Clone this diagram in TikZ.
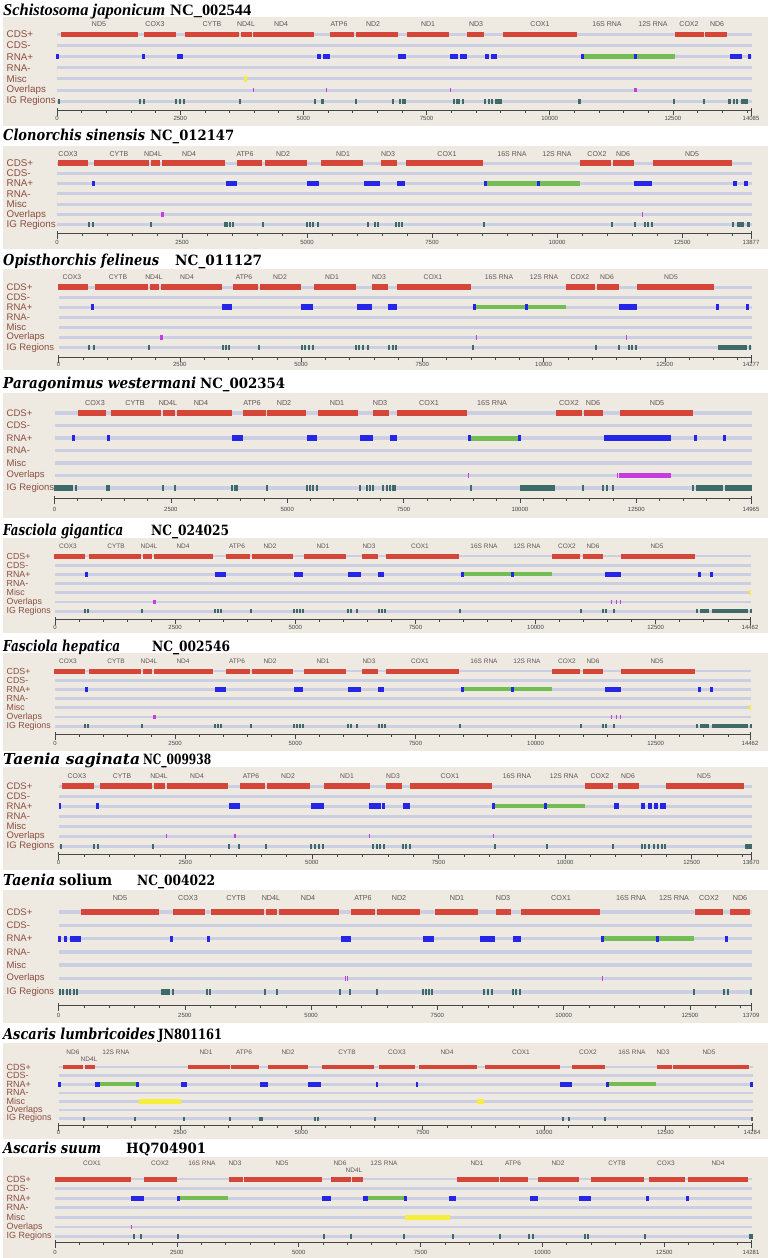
\documentclass[tikz,border=0pt]{standalone}
\usepackage{fontspec}
\usepackage{graphicx}
\setsansfont{Liberation Sans}
\newfontfamily\tnr{Liberation Serif}
\newfontfamily\dvs{DejaVu Serif}
\definecolor{bgc}{RGB}{238,234,226}
\definecolor{trkc}{RGB}{204,207,228}
\definecolor{cdsc}{RGB}{214,70,56}
\definecolor{bluc}{RGB}{38,38,232}
\definecolor{grnc}{RGB}{114,190,84}
\definecolor{yelc}{RGB}{245,238,60}
\definecolor{purc}{RGB}{198,60,222}
\definecolor{igc}{RGB}{62,106,106}
\definecolor{tlabc}{RGB}{140,76,62}
\definecolor{glabc}{RGB}{96,84,84}
\definecolor{axc}{RGB}{70,70,70}
\tikzset{
 trk/.style={draw=trkc, line width=\tw pt},
 cds/.style={draw=cdsc, line width=\fw pt},
 rb/.style={draw=bluc, line width=\fw pt},
 rr/.style={draw=grnc, line width=\fw pt-1pt},
 ms/.style={draw=yelc, line width=\fw pt},
 ov/.style={draw=purc, line width=\fw pt-1pt},
 igs/.style={draw=igc, line width=\fw pt-0.5pt},
 tlab/.style={anchor=west, inner sep=0, text=tlabc, font=\sffamily\fontsize{\tfs}{\tfs}\selectfont},
 glab/.style={inner sep=0, text=glabc, font=\sffamily\fontsize{\gfs}{\gfs}\selectfont},
 axlab/.style={inner sep=0, text=axc, font=\sffamily\fontsize{6}{6}\selectfont},
 axl/.style={draw=axc, line width=0.6pt},
}
\newcommand\setp[9]{\def\pT{#1}\def\bT{#2}\def\bB{#3}\def\pL{#4}\def\pY{#5}\def\pS{#6}\def\pA{#7}\def\pAL{#8}\def\plen{#9}}
\newcommand\pframe{%
 \fill[bgc] (3,\bT) rectangle (768,\bB);
 \foreach \i/\lab in {0/CDS+,1/CDS-,2/RNA+,3/RNA-,4/Misc,5/Overlaps,6/IG Regions}{
   \draw[trk] (\xa,{\pY+\i*\pS}) -- ({\xb+1},{\pY+\i*\pS});
   \node[tlab] (p\pn-trk\i) at (6.5,{\pY+\i*\pS}) {\lab};
 }
 \draw[axl] (\xa,\pA) -- (\xb,\pA);
 \pgfmathtruncatemacro\nmin{floor(\plen/500)}
 \foreach \k in {0,...,\nmin}{
   \pgfmathsetmacro\tx{\xa+\k*500/\plen*(\xb-\xa)}
   \draw[axl] (\tx,\pA) -- (\tx,\pA+2.5);
 }
 \pgfmathtruncatemacro\nmaj{floor(\plen/2500)}
 \foreach \k in {0,...,\nmaj}{
   \pgfmathsetmacro\tx{\xa+\k*2500/\plen*(\xb-\xa)}
   \pgfmathtruncatemacro\lv{\k*2500}
   \draw[axl] (\tx,\pA) -- (\tx,\pA+4.5);
   \node[axlab] (p\pn-ax\k) at (\tx,\pAL) {\lv};
 }
 \draw[axl] (\xa,\pA-2) -- (\xa,\pA+6);
 \draw[axl] (\xb,\pA-2) -- (\xb,\pA+6);
 \node[axlab] (p\pn-axend) at (\xb,\pAL) {\plen};
}
\newcommand\feat[3]{\foreach \a/\b in {#3}{\draw[#1] (\a,{\pY+#2*\pS}) -- (\b,{\pY+#2*\pS});}}
\newcommand\igt[1]{\foreach \a in {#1}{\draw[igs] ({\a-0.6},{\pY+6*\pS}) -- ({\a+0.6},{\pY+6*\pS});}}
\newcommand\glab[1]{\foreach \x/\g in {#1}{\node[glab] (p\pn-g\x) at (\x,\pL) {\g};}}
\newcommand\ttl[7]{% base y, font, species, width, acc, x, width
 \node[anchor=base west, inner sep=0] (p\pn-title) at (3,#1) {\resizebox{#4pt}{11.5pt}{#2\bfseries\itshape #3}};
 \node[anchor=base west, inner sep=0] (p\pn-acc) at (#6,#1) {\resizebox{#7pt}{10.5pt}{#2\bfseries #5}};}
\begin{document}
\begin{tikzpicture}[x=1pt,y=-1pt]
\useasboundingbox (0,0) rectangle (771,1258);
\fill[white] (0,0) rectangle (771,1258);
% ---------- Panel 1
\begin{scope}
\def\pn{1}\setp{10}{17}{126}{24.5}{34.5}{11.1}{110}{118.5}{14085}
\def\xa{57}\def\xb{751}\def\tw{3}\def\fw{5.5}\def\tfs{9.8}\def\gfs{7}
\pframe
\ttl{15.5}{\tnr}{Schistosoma japonicum}{162}{NC\_002544}{170}{81}
\glab{99/ND5, 155/COX3, 212/CYTB, 246/ND4L, 281/ND4, 339/ATP6, 373/ND2, 428/ND1, 476/ND3, 540/COX1, 607/16S RNA, 653/12S RNA, 689/COX2, 717/ND6}
\feat{cds}{0}{61/138, 144/176, 185/239, 241/252, 253/314, 330/354, 356/398, 407/449, 467/484, 503/577, 675/704, 705/727}
\feat{rb}{2}{56/58.5, 142/145, 177/183, 317/321, 323/330, 398/406, 450/458, 460/467, 485/489, 491/497, 730/742, 748/750.5}
\feat{rr}{2}{582/675}
\feat{rb}{2}{581/583.5, 634/636.5}
\feat{ms}{4}{244/247}
\feat{ov}{5}{252.5/254, 325.5/327, 449.5/450.5, 633.5/636.5}
\igt{59, 144, 176, 180, 184, 240, 315, 356, 393, 400, 403, 405, 454, 457, 459, 463, 485, 489, 492, 674, 704, 734, 737}
\feat{igs}{6}{138.5/140.5, 321/323.5, 495/502, 578/581, 728/731, 741/748}
\end{scope}
% ---------- Panel 2
\begin{scope}
\def\pn{2}\setp{135}{146}{249}{154}{163}{10.3}{233}{242}{13877}
\def\xa{57}\def\xb{751}\def\tw{3}\def\fw{5.5}\def\tfs{9.8}\def\gfs{7}
\pframe
\ttl{140}{\dvs}{Clonorchis sinensis}{142}{NC\_012147}{150}{84}
\glab{68/COX3, 119/CYTB, 153/ND4L, 189/ND4, 245/ATP6, 283/ND2, 343/ND1, 388/ND3, 447/COX1, 512/16S RNA, 557/12S RNA, 597/COX2, 623/ND6, 692/ND5}
\feat{cds}{0}{58/88, 94/149, 151/160, 162/225, 237/262, 265/307, 321/363, 381/397, 406/483, 580/611, 613/634, 653/732}
\feat{rb}{2}{92/94.5, 226/237, 307/319, 364/380, 397/405, 634/652, 733/737, 744/748}
\feat{rr}{2}{485/580}
\feat{rb}{2}{484/487, 537/539.5}
\feat{ov}{5}{161/163.5, 641.5/642.5}
\igt{89, 93, 151, 225, 227, 230, 233, 263, 307, 310, 313, 318, 368, 375, 378, 396, 399, 402, 484, 612, 635, 645, 648, 652, 733}
\feat{igs}{6}{737/744, 747/750}
\end{scope}
% ---------- Panel 3
\begin{scope}
\def\pn{3}\setp{260}{269}{370}{277}{287}{10.1}{357}{364.5}{14277}
\def\xa{58.6}\def\xb{751}\def\tw{3}\def\fw{5.5}\def\tfs{9.5}\def\gfs{6.8}
\pframe
\ttl{265}{\dvs}{Opisthorchis felineus}{156}{NC\_011127}{175}{87}
\glab{72/COX3, 118/CYTB, 154/ND4L, 187/ND4, 244/ATP6, 280/ND2, 332/ND1, 379/ND3, 433/COX1, 499/16S RNA, 544/12S RNA, 580/COX2, 607/ND6, 671/ND5}
\feat{cds}{0}{58/88, 95/148, 150/159, 161/222, 233/258, 260/301, 314/356, 372/388, 397/471, 566/595, 597/619, 637/714}
\feat{rb}{2}{91/93.5, 222/232, 301/313, 357/372, 388/397, 619/637, 716/718.5, 746/748.5}
\feat{rr}{2}{474/566}
\feat{rb}{2}{473/475.5, 525/527.5}
\feat{ov}{5}{160/162.5, 475.5/476.5, 625.5/626.5}
\igt{94, 149, 223, 226, 229, 259, 302, 305, 309, 313, 356, 359, 363, 368, 389, 393, 396, 473, 596, 619, 629, 632, 636}
\feat{igs}{6}{88/90, 718/747, 749/751}
\end{scope}
% ---------- Panel 4
\begin{scope}
\def\pn{4}\setp{383}{393}{518}{403}{413}{12.5}{498}{509}{14965}
\def\xa{54.5}\def\xb{751}\def\tw{3.5}\def\fw{6}\def\tfs{9.5}\def\gfs{7.2}
\pframe
\ttl{388}{\dvs}{Paragonimus westermani}{193}{NC\_002354}{200}{85}
\glab{95/COX3, 135/CYTB, 168/ND4L, 201/ND4, 252/ATP6, 284/ND2, 337/ND1, 380/ND3, 429/COX1, 492/16S RNA, 569/COX2, 593/ND6, 657/ND5}
\feat{cds}{0}{78/106, 111/161, 163/175, 177/232, 243/266, 267/306, 318/358, 373/389, 397/467, 556/582, 584/603, 620/693}
\feat{rb}{2}{72/74.5, 107/109.5, 232/243, 307/317, 360/373, 390/397, 604/671, 694/696.5, 723/725.5}
\feat{rr}{2}{469/519}
\feat{rb}{2}{467.5/470.5, 518/521}
\feat{ov}{5}{467.5/468.5, 616.5/617.5, 619/671}
\igt{76, 107, 109, 163, 175, 232, 235, 237, 267, 307, 310, 313, 317, 360, 367, 370, 373, 383, 387, 390, 393, 395, 471, 583, 603, 607, 613, 693}
\feat{igs}{6}{54/73, 520/555, 696/723, 725/752}
\end{scope}
% ---------- Panel 5
\begin{scope}
\def\pn{5}\setp{530}{538}{633}{546}{556}{9.2}{619}{627.5}{14462}
\def\xa{55}\def\xb{750}\def\tw{2.8}\def\fw{5}\def\tfs{8.8}\def\gfs{6.5}
\pframe
\ttl{535}{\dvs}{Fasciola gigantica}{120}{NC\_024025}{151}{78}
\glab{68/COX3, 116/CYTB, 149/ND4L, 183/ND4, 237/ATP6, 270/ND2, 323/ND1, 369/ND3, 420/COX1, 484/16S RNA, 527/12S RNA, 567/COX2, 593/ND6, 657/ND5}
\feat{cds}{0}{54/85, 89/141, 143/152, 154/213, 226/250, 252/293, 304/346, 362/378, 386/459, 552/580, 583/603, 621/695}
\feat{rb}{2}{85/87.5, 215/226, 294/303, 348/361, 378/384, 605/621, 698/700.5, 710/712.5}
\feat{rr}{2}{462/552}
\feat{rb}{2}{461/463.5, 511/513.5}
\feat{ms}{4}{749/751}
\feat{ov}{5}{153/155.5, 610.5/611.5, 615.5/616.5, 619.5/620.5}
\igt{85, 88, 142, 215, 218, 221, 251, 294, 297, 300, 303, 348, 351, 357, 379, 382, 385, 460, 581, 603, 606, 614, 697, 751}
\feat{igs}{6}{700/709, 712/748}
\end{scope}
% ---------- Panel 6
\begin{scope}
\def\pn{6}\setp{646}{653}{751}{661}{671}{9.2}{734}{743.5}{14462}
\def\xa{55}\def\xb{750}\def\tw{2.8}\def\fw{5}\def\tfs{8.8}\def\gfs{6.5}
\pframe
\ttl{651}{\dvs}{Fasciola hepatica}{117}{NC\_002546}{152}{78}
\glab{68/COX3, 116/CYTB, 149/ND4L, 183/ND4, 237/ATP6, 270/ND2, 323/ND1, 369/ND3, 420/COX1, 484/16S RNA, 527/12S RNA, 567/COX2, 593/ND6, 657/ND5}
\feat{cds}{0}{54/85, 89/141, 143/152, 154/213, 226/250, 252/293, 304/346, 362/378, 386/459, 552/580, 583/603, 621/695}
\feat{rb}{2}{85/87.5, 215/226, 294/303, 348/361, 378/384, 605/621, 698/700.5, 710/712.5}
\feat{rr}{2}{462/552}
\feat{rb}{2}{461/463.5, 511/513.5}
\feat{ms}{4}{749/751}
\feat{ov}{5}{153/155.5, 610.5/611.5, 615.5/616.5, 619.5/620.5}
\igt{85, 88, 142, 215, 218, 221, 251, 294, 297, 300, 303, 348, 351, 357, 379, 382, 385, 460, 581, 603, 606, 614, 697, 751}
\feat{igs}{6}{700/709, 712/748}
\end{scope}
% ---------- Panel 7
\begin{scope}
\def\pn{7}\setp{759}{767}{870}{776}{786}{10}{854}{862.5}{13670}
\def\xa{58.6}\def\xb{751}\def\tw{3}\def\fw{5.5}\def\tfs{9.5}\def\gfs{6.8}
\pframe
\ttl{764}{\dvs}{Taenia saginata}{137}{NC\_009938}{143}{68}
\glab{77/COX3, 122/CYTB, 159/ND4L, 197/ND4, 251/ATP6, 288/ND2, 347/ND1, 393/ND3, 450/COX1, 517/16S RNA, 564/12S RNA, 600/COX2, 628/ND6, 704/ND5}
\feat{cds}{0}{62/94, 100/152, 154/165, 167/228, 240/265, 267/310, 324/370, 386/402, 410/492, 585/613, 618/639, 666/744}
\feat{rb}{2}{58.5/61, 96/99, 229/240, 311/324, 369/381, 382/385, 403/410, 614/618.5, 641/645, 648/652, 654/658, 660/666}
\feat{rr}{2}{493/585}
\feat{rb}{2}{492/494.5, 544/546.5}
\feat{ov}{5}{165.5/167, 233.5/234.5, 235/236, 368.5/369.5, 492.5/493.5}
\igt{61, 94, 98, 153, 229, 239, 266, 311, 315, 319, 323, 373, 377, 380, 384, 403, 406, 410, 495, 547, 613, 642, 645, 649, 654, 658, 662, 665}
\feat{igs}{6}{745/752}
\end{scope}
% ---------- Panel 8
\begin{scope}
\def\pn{8}\setp{880}{890}{1023}{898}{912}{13.3}{1005}{1015}{13709}
\def\xa{58.6}\def\xb{751}\def\tw{3.5}\def\fw{6}\def\tfs{9.5}\def\gfs{7.2}
\pframe
\node[anchor=base west, inner sep=0] (p8-title) at (3,885) {\resizebox{52pt}{11.5pt}{\dvs\bfseries\itshape Taenia}};
\node[anchor=base west, inner sep=0] (p8-title2) at (59,885) {\resizebox{53pt}{11.5pt}{\dvs\bfseries solium}};
\node[anchor=base west, inner sep=0] (p8-acc) at (137,885) {\resizebox{78pt}{10.5pt}{\dvs\bfseries NC\_004022}};
\glab{120/ND5, 188/COX3, 236/CYTB, 271/ND4L, 308/ND4, 363/ATP6, 399/ND2, 457/ND1, 503/ND3, 561/COX1, 631/16S RNA, 674/12S RNA, 709/COX2, 740/ND6}
\feat{cds}{0}{81/159, 173/205, 211/264, 266/277, 279/339, 351/375, 377/420, 435/478, 496/511, 521/600, 695/723, 730/750}
\feat{rb}{2}{58/61, 64/66.5, 70/81, 170/172.5, 207/209.5, 341/351, 423/434, 480/495, 513/521, 724.5/727.5}
\feat{rr}{2}{602/694}
\feat{rb}{2}{601/603.5, 656/658.5}
\feat{ov}{5}{344.5/345.5, 346.5/347.5, 601.5/602.5}
\igt{60, 63, 67, 70, 74, 77, 173, 207, 210, 265, 277, 340, 350, 377, 423, 426, 429, 432, 484, 488, 492, 513, 516, 520, 694, 724, 728, 751}
\feat{igs}{6}{161/170}
\end{scope}
% ---------- Panel 9
\begin{scope}
\def\pn{9}\setp{1034}{1043}{1139}{1052}{1067}{8.6}{1125}{1132.5}{14284}
\def\xa{58.6}\def\xb{752}\def\tw{2.6}\def\fw{4.6}\def\tfs{9}\def\gfs{6.5}
\pframe
\ttl{1039}{\dvs}{Ascaris lumbricoides}{152}{JN801161}{158}{64}
\glab{73/ND6, 116/12S RNA, 206/ND1, 244/ATP6, 288/ND2, 347/CYTB, 397/COX3, 447/ND4, 521/COX1, 588/COX2, 632/16S RNA, 663/ND3, 709/ND5}
\node[glab] (p9-nd4l) at (89,1059.5) {ND4L};
\feat{cds}{0}{63/83, 85/95, 188/230, 231/259, 268/308, 322/374, 379/415, 419/477, 485/560, 572/605, 657/672, 673/749}
\feat{rr}{2}{100/136, 608/656}
\feat{rb}{2}{58/61, 95/100, 136/138.5, 181/187, 260/268, 308/321, 375.5/378, 415.5/418, 560/572, 606/608.5, 750/752.5}
\feat{ms}{4}{139/181, 477/484}
\igt{84, 135, 184, 230, 260, 262, 315, 318, 375, 563, 569, 605, 752}
\end{scope}
% ---------- Panel 10
\begin{scope}
\def\pn{10}\setp{1148}{1157}{1258}{1163}{1179}{9.6}{1242}{1252}{14281}
\def\xa{55}\def\xb{751}\def\tw{2.8}\def\fw{5}\def\tfs{9}\def\gfs{6.5}
\pframe
\ttl{1153}{\dvs}{Ascaris suum}{98}{HQ704901}{126}{80}
\glab{92/COX1, 160/COX2, 202/16S RNA, 235/ND3, 282/ND5, 340/ND6, 384/12S RNA, 477/ND1, 513/ATP6, 558/ND2, 617/CYTB, 666/COX3, 718/ND4}
\node[glab] (p10-nd4l) at (354,1170) {ND4L};
\feat{cds}{0}{55/131, 144/177, 229/243, 244/322, 331/351, 352/363, 457/499, 500/528, 538/579, 591/644, 649/685, 688/748}
\feat{rr}{2}{179/228, 368/404}
\feat{rb}{2}{131/144, 177/179.5, 322/331, 363/368, 404/406.5, 449/456, 530/538, 579/591, 646/648.5, 686/688.5}
\feat{ms}{4}{405/450}
\feat{ov}{5}{130.5/131.5}
\igt{134, 141, 178, 324, 351, 404, 453, 500, 529, 533, 585, 588, 645}
\feat{igs}{6}{749/753}
\end{scope}
\end{tikzpicture}
\end{document}
